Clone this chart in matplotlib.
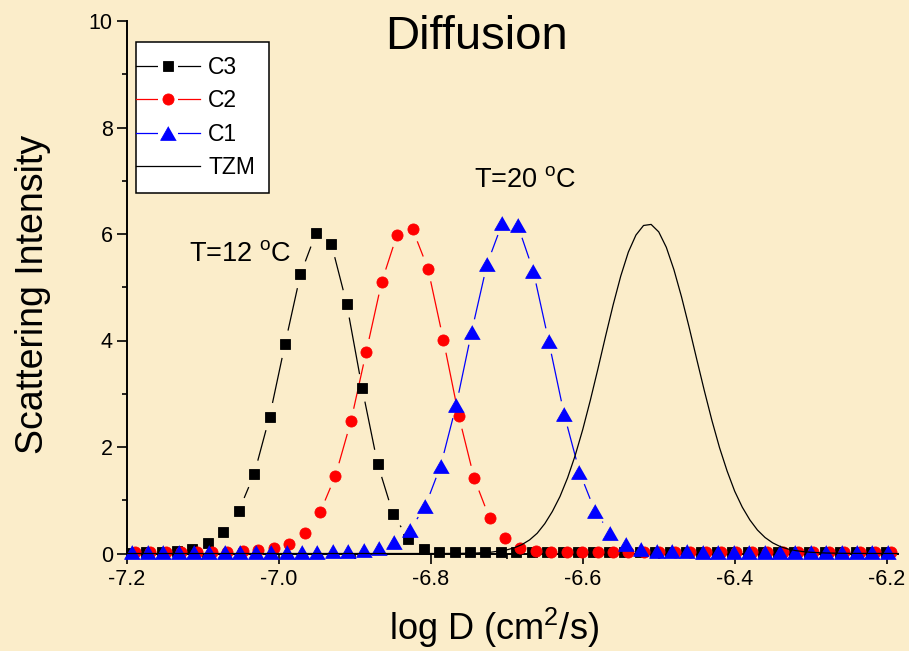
import numpy as np
import matplotlib
matplotlib.use("Agg")
import matplotlib.pyplot as plt
from matplotlib.lines import Line2D
from matplotlib.collections import LineCollection
from matplotlib.legend_handler import HandlerTuple, HandlerLine2D
from matplotlib.ticker import MultipleLocator, FormatStrFormatter

plt.rcParams['font.family'] = ['Liberation Sans', 'DejaVu Sans']
plt.rcParams['mathtext.fontset'] = 'custom'
plt.rcParams['mathtext.rm'] = 'Liberation Sans'
plt.rcParams['mathtext.it'] = 'Liberation Sans:italic'
plt.rcParams['mathtext.bf'] = 'Liberation Sans:bold'
plt.rcParams['axes.unicode_minus'] = False

BG = '#FBEDCA'

# ---- data: log D (cm^2/s) vs scattering intensity ----
c3_logd = [-7.1950, -7.1747, -7.1544, -7.1341, -7.1138, -7.0935, -7.0732, -7.0529, -7.0326, -7.0123,
           -6.9920, -6.9717, -6.9514, -6.9311, -6.9108, -6.8905, -6.8702, -6.8499, -6.8296, -6.8093,
           -6.7890, -6.7687, -6.7484, -6.7281, -6.7078, -6.6875, -6.6672, -6.6469, -6.6266, -6.6063,
           -6.5860, -6.5657, -6.5454, -6.5251, -6.5048, -6.4845, -6.4642, -6.4439, -6.4236, -6.4033,
           -6.3830, -6.3627, -6.3424, -6.3221, -6.3018, -6.2815, -6.2612, -6.2409, -6.2206, -6.2003]
c3_int = [0.01, 0.02, 0.03, 0.05, 0.09, 0.19, 0.40, 0.80, 1.49, 2.57,
          3.93, 5.24, 6.01, 5.82, 4.69, 3.11, 1.69, 0.75, 0.27, 0.08,
          0.03, 0.02, 0.02, 0.02, 0.02, 0.02, 0.02, 0.02, 0.02, 0.02,
          0.02, 0.02, 0.02, 0.02, 0.02, 0.02, 0.02, 0.02, 0.02, 0.02,
          0.02, 0.02, 0.02, 0.02, 0.02, 0.02, 0.02, 0.02, 0.02, 0.02]

c2_logd = [-7.1895, -7.1692, -7.1489, -7.1286, -7.1083, -7.0880, -7.0677, -7.0474, -7.0271, -7.0068,
           -6.9865, -6.9662, -6.9459, -6.9256, -6.9053, -6.8850, -6.8647, -6.8444, -6.8241, -6.8038,
           -6.7835, -6.7632, -6.7429, -6.7226, -6.7023, -6.6820, -6.6617, -6.6414, -6.6211, -6.6008,
           -6.5805, -6.5602, -6.5399, -6.5196, -6.4993, -6.4790, -6.4587, -6.4384, -6.4181, -6.3978,
           -6.3775, -6.3572, -6.3369, -6.3166, -6.2963, -6.2760, -6.2557, -6.2354, -6.2151, -6.1948]
c2_int = [0.02, 0.02, 0.02, 0.02, 0.02, 0.03, 0.03, 0.04, 0.06, 0.10,
          0.18, 0.38, 0.77, 1.46, 2.48, 3.79, 5.10, 5.99, 6.09, 5.35,
          4.01, 2.58, 1.41, 0.66, 0.29, 0.10, 0.04, 0.03, 0.02, 0.02,
          0.02, 0.02, 0.02, 0.02, 0.02, 0.02, 0.02, 0.02, 0.02, 0.02,
          0.02, 0.02, 0.02, 0.02, 0.02, 0.02, 0.02, 0.02, 0.02, 0.02]

c1_logd = [-7.1930, -7.1727, -7.1524, -7.1321, -7.1118, -7.0915, -7.0712, -7.0509, -7.0306, -7.0103,
           -6.9900, -6.9697, -6.9494, -6.9291, -6.9088, -6.8885, -6.8682, -6.8479, -6.8276, -6.8073,
           -6.7870, -6.7667, -6.7464, -6.7261, -6.7058, -6.6855, -6.6652, -6.6449, -6.6246, -6.6043,
           -6.5840, -6.5637, -6.5434, -6.5231, -6.5028, -6.4825, -6.4622, -6.4419, -6.4216, -6.4013,
           -6.3810, -6.3607, -6.3404, -6.3201, -6.2998, -6.2795, -6.2592, -6.2389, -6.2186, -6.1983]
c1_int = [0.03, 0.03, 0.03, 0.03, 0.03, 0.03, 0.03, 0.03, 0.03, 0.03,
          0.03, 0.03, 0.03, 0.04, 0.05, 0.07, 0.11, 0.21, 0.44, 0.89,
          1.65, 2.78, 4.16, 5.43, 6.21, 6.16, 5.31, 3.99, 2.62, 1.53,
          0.80, 0.38, 0.17, 0.09, 0.05, 0.04, 0.04, 0.03, 0.03, 0.03,
          0.03, 0.03, 0.03, 0.03, 0.03, 0.03, 0.03, 0.03, 0.03, 0.03]

tzm_logd = [-7.20, -6.80, -6.78, -6.76, -6.74, -6.72, -6.70, -6.69, -6.68, -6.67,
            -6.66, -6.65, -6.64, -6.63, -6.62, -6.61, -6.60, -6.59, -6.58, -6.57,
            -6.56, -6.55, -6.54, -6.53, -6.52, -6.51, -6.50, -6.49, -6.48, -6.47,
            -6.46, -6.45, -6.44, -6.43, -6.42, -6.41, -6.40, -6.39, -6.38, -6.37,
            -6.36, -6.35, -6.34, -6.33, -6.32, -6.31, -6.30, -6.28, -6.26, -6.24,
            -6.21, -6.185]
tzm_int = [0.0, 0.0, 0.001, 0.003, 0.009, 0.026, 0.068, 0.108, 0.168, 0.255,
           0.38, 0.56, 0.79, 1.07, 1.42, 1.84, 2.33, 2.88, 3.47, 4.08,
           4.67, 5.21, 5.66, 5.98, 6.16, 6.18, 6.04, 5.75, 5.33, 4.82,
           4.25, 3.65, 3.06, 2.50, 1.99, 1.55, 1.17, 0.87, 0.63, 0.44,
           0.30, 0.20, 0.13, 0.085, 0.055, 0.036, 0.023, 0.009, 0.004, 0.002,
           0.001, 0.0]

series_labels = ['C3', 'C2', 'C1', 'TZM']
x_ticks = [-7.2, -7.0, -6.8, -6.6, -6.4, -6.2]
y_ticks = [0, 2, 4, 6, 8, 10]

# triangle a little wider than tall
TRI = [(0, 0.875), (-1, -0.875), (1, -0.875)]

fig = plt.figure(figsize=(9.09, 6.51), dpi=100, facecolor=BG)
ax = fig.add_axes([127 / 909, 1 - 553.5 / 651, 771 / 909, 532.5 / 651])
ax.set_facecolor(BG)
ax.set_xlim(-7.2, -6.185)
ax.set_ylim(0, 10)

for s in ['top', 'right']:
    ax.spines[s].set_visible(False)
for s in ['left', 'bottom']:
    ax.spines[s].set_linewidth(1.4)

ax.set_xticks(x_ticks)
ax.set_yticks(y_ticks)
ax.xaxis.set_minor_locator(MultipleLocator(0.1))
ax.yaxis.set_minor_locator(MultipleLocator(1))
ax.xaxis.set_major_formatter(FormatStrFormatter('%.1f'))
ax.tick_params(which='major', direction='out', length=7.2, width=1.2, labelsize=15.5)
ax.tick_params(axis='x', which='major', pad=4)
ax.tick_params(axis='y', which='major', pad=3)
ax.tick_params(which='minor', direction='out', length=3.6, width=1.2)


def gapped_segments(xs, ys, gap_px):
    """Connect consecutive points, leaving a gap of gap_px around each symbol."""
    pts = ax.transData.transform(np.column_stack([xs, ys]))
    inv = ax.transData.inverted()
    segs = []
    for p0, p1 in zip(pts[:-1], pts[1:]):
        d = p1 - p0
        length = np.hypot(d[0], d[1])
        if length <= 2 * gap_px:
            continue
        u = d / length
        segs.append(inv.transform(np.array([p0 + u * gap_px, p1 - u * gap_px])))
    return segs


styles = [
    (c3_logd, c3_int, 'black', 's', 6.8, 14),
    (c2_logd, c2_int, 'red', 'o', 8.0, 13),
    (c1_logd, c1_int, 'blue', TRI, 11.3, 13),
]

for k, (xs, ys, col, mk, ms, gap) in enumerate(styles):
    lc = LineCollection(gapped_segments(xs, ys, gap), colors=col, linewidths=0.9, zorder=2)
    ax.add_collection(lc)
    ax.plot(xs, ys, ls='none', marker=mk, ms=ms, mfc=col, mec=col, mew=0.6,
            zorder=3 + k, clip_on=False)

ax.plot(tzm_logd, tzm_int, color='black', lw=0.9, zorder=7, clip_on=False)

# annotations
ax.text(-7.0513, 5.49, r'T=12 $^\mathrm{o}$C', ha='center', va='baseline', fontsize=19.5)
ax.text(-6.6757, 6.88, r'T=20 $^\mathrm{o}$C', ha='center', va='baseline', fontsize=19.5)

# legend with broken lines around the symbols
def legend_handle(color, marker, ms):
    line = Line2D([], [], color=color, lw=0.9)
    halo = Line2D([], [], ls='none', marker='s', ms=14.4, mfc='white', mec='white', mew=0)
    sym = Line2D([], [], ls='none', marker=marker, ms=ms, mfc=color, mec=color, mew=0.6)
    return (line, halo, sym)

handles = [legend_handle(col, mk, ms) for (_, _, col, mk, ms, _) in styles]
handles.append(Line2D([], [], color='black', lw=0.9))

leg = ax.legend(handles, series_labels, loc='upper left',
                bbox_to_anchor=(136 / 909, 1 - 42.3 / 651), bbox_transform=fig.transFigure,
                borderaxespad=0, fontsize=16.5, handlelength=2.2, handletextpad=0.35,
                labelspacing=0.45, borderpad=0.6, fancybox=False, framealpha=1,
                handler_map={tuple: HandlerTuple(ndivide=1, xpad=-0.6),
                             Line2D: HandlerLine2D(xpad=-0.6)})
leg.get_frame().set_edgecolor('black')
leg.get_frame().set_linewidth(1.1)
leg.get_frame().set_facecolor('white')
leg.set_zorder(10)

# titles and axis labels
fig.text(476.5 / 909, 1 - 49 / 651, 'Diffusion', ha='center', va='baseline', fontsize=34)
fig.text(493.5 / 909, 1 - 640 / 651, r'log D (cm$^\mathrm{2}$/s)', ha='center',
         va='baseline', fontsize=26)
fig.text(33 / 909, 1 - 294.5 / 651, 'Scattering Intensity', rotation=90,
         ha='center', va='center', fontsize=27)

fig.savefig('out.png', dpi=100, facecolor=BG)
